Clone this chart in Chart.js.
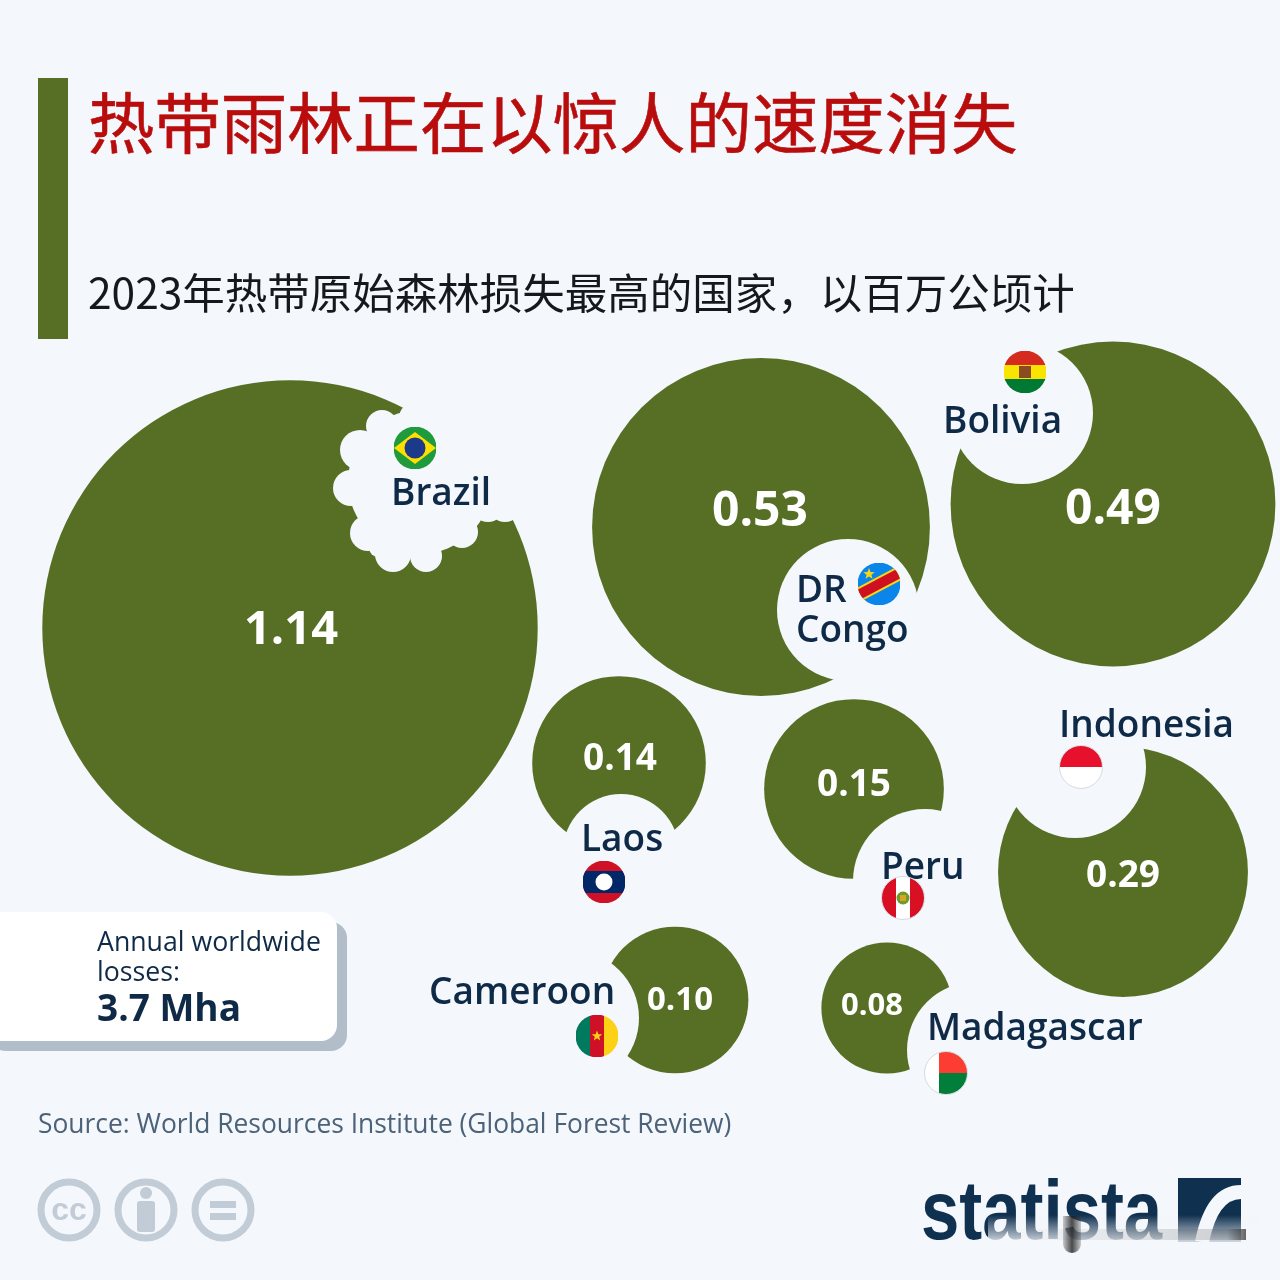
<!DOCTYPE html>
<html lang="zh">
<head>
<meta charset="utf-8">
<title>热带雨林正在以惊人的速度消失</title>
<script src="https://cdn.jsdelivr.net/npm/chart.js@4/dist/chart.umd.min.js"></script>
<style>
  html, body { margin: 0; padding: 0; background: #f4f7fb; }
  #page { position: relative; width: 1280px; height: 1280px; overflow: hidden; background: #f4f7fb; }
  #page > * { position: absolute; }
  #bubbles { left: 0; top: 0; }
  #bar { left: 38px; top: 78px; width: 30px; height: 261px; background: #566f24; }
  #title { left: 88px; top: 72px; font: 400 66.4px/94px "Noto Sans CJK SC"; color: #b90d0d; white-space: nowrap; -webkit-text-stroke: 0.6px #b90d0d; }
  #subtitle { left: 88px; top: 260px; font: 400 42.5px/62px "Noto Sans CJK SC"; color: #15181c; white-space: nowrap; }
  #box { left: -20px; top: 912px; width: 357px; height: 129px; background: #fff; border-radius: 16px; box-shadow: 10px 10px 0 #b1bdc8; }
  #boxText { left: 97px; top: 926px; font: 400 26.7px/30px "Open Sans"; color: #0f2a47; white-space: nowrap; }
  #boxText b { display: block; font: 700 37px/42px "Open Sans"; }
  #source { left: 38px; top: 1105px; font: 400 26.4px/36px "Open Sans"; color: #4c6279; white-space: nowrap; }
  #icons { left: 30px; top: 1170px; }
  #logo { left: 921px; top: 1160px; font: 700 84px/100px "Liberation Sans"; color: #10304f; white-space: nowrap; transform: scaleX(0.82); transform-origin: left center; }
  #logoMark { left: 1178px; top: 1178px; }
  #logoFade { left: 988px; top: 1215px; width: 272px; height: 36px; background: linear-gradient(rgba(244,247,251,0), #f4f7fb 90%); }
  #smear { left: 1010px; top: 1229px; width: 236px; height: 11px; background: linear-gradient(90deg, rgba(120,120,120,0), rgba(110,110,110,0.14) 50%, rgba(90,90,90,0.25) 92%, rgba(50,50,50,0.75)); }
  #smudge { left: 1063px; top: 1216px; width: 18px; height: 37px; border-radius: 0 0 9px 9px; background: linear-gradient(90deg, rgba(60,60,60,0.25), rgba(30,30,30,0.8) 50%, rgba(60,60,60,0.25)); }
</style>
</head>
<body>
<div id="page">
  <canvas id="bubbles" width="1280" height="1280"></canvas>
  <div id="bar"></div>
  <div id="title">热带雨林正在以惊人的速度消失</div>
  <div id="subtitle">2023年热带原始森林损失最高的国家，以百万公顷计</div>
  <div id="box"></div>
  <div id="boxText">Annual worldwide<br>losses:<b>3.7 Mha</b></div>
  <div id="source">Source: World Resources Institute (Global Forest Review)</div>
  <svg id="icons" width="240" height="80" viewBox="0 0 240 80">
    <g fill="none" stroke="#c1ccd6" stroke-width="7">
      <circle cx="39" cy="40" r="28"/><circle cx="116" cy="40" r="28"/><circle cx="193" cy="40" r="28"/>
    </g>
    <g fill="#c1ccd6">
      <text x="39" y="50" text-anchor="middle" font-family="Liberation Sans" font-weight="700" font-size="32">cc</text>
      <circle cx="116" cy="23" r="6"/><rect x="107" y="31" width="18" height="31" rx="3"/>
      <rect x="180" y="31" width="26" height="7"/><rect x="180" y="43" width="26" height="7"/>
    </g>
  </svg>
  <div id="logo">statista</div>
  <svg id="logoMark" width="64" height="64" viewBox="0 0 64 64">
    <rect x="0" y="0" width="63" height="64" fill="#10304f"/>
    <path d="M24 64 C30 34 42 14 63 14" fill="none" stroke="#f4f7fb" stroke-width="14"/>
  </svg>
  <div id="logoFade"></div>
  <div id="smear"></div>
  <div id="smudge"></div>
</div>

<script>
// Values, million hectares
const countries = ['Brazil', 'DR Congo', 'Bolivia', 'Indonesia', 'Peru', 'Laos', 'Cameroon', 'Madagascar'];
const losses = [1.14, 0.53, 0.49, 0.29, 0.15, 0.14, 0.10, 0.08];
const valueLabels = ['1.14', '0.53', '0.49', '0.29', '0.15', '0.14', '0.10', '0.08'];

// Bubble centres on the page grid
const centerX = [290, 761, 1113, 1123, 854, 619, 675, 887];
const centerY = [628, 527, 504, 872, 789, 763, 1000, 1008];

// Bites taken out of each bubble
const biteX = [420, 848, 1022, 1075, 925, 621, 571, 975];
const biteY = [482, 610, 413, 767, 881, 852, 1018, 1050];
const biteR = [72, 71, 71, 71, 72, 58, 68, 68];

// Scallops around the Brazil bite
const toothX = [382, 360, 351, 368, 378, 393, 426, 462, 488, 505, 415, 478];
const toothY = [426, 450, 488, 533, 548, 554, 556, 532, 505, 505, 418, 478];
const toothR = [16, 20, 18, 18, 9, 18, 16, 16, 17, 17, 16, 24];

const BG = '#f4f7fb';
const GREEN = '#566f24';
const NAVY = '#0f2a47';
const AREA_SCALE = 232;  // radius = scale * sqrt(value)

// text offsets per country, same order as countries
const valueX = [291, 760, 1113, 1123, 854, 620, 680, 872];
const valueY = [631, 512, 510, 876, 785, 759, 1001, 1006];
const valueSize = [47, 48, 48, 37, 37, 37, 33, 31];
const nameX = [391, 796, 943, 1059, 881, 581, 429, 927];
const nameY = [505, 602, 433, 737, 879, 851, 1004, 1040];
const flagX = [415, 879, 1025, 1081, 903, 604, 597, 946];
const flagY = [448, 584, 372, 767, 898, 882, 1036, 1073];

function star(ctx, x, y, r, color) {
    ctx.fillStyle = color;
    ctx.beginPath();
    for (let i = 0; i < 10; i++) {
        const a = -Math.PI / 2 + i * Math.PI / 5;
        const d = i % 2 ? r * 0.42 : r;
        ctx.lineTo(x + d * Math.cos(a), y + d * Math.sin(a));
    }
    ctx.closePath();
    ctx.fill();
}

// Flags are plain decoration, drawn in a unit box around (0,0) with radius 21
const flagPainters = {
    'Brazil': ctx => {
        ctx.fillStyle = '#1f9a3c'; ctx.fillRect(-21, -21, 42, 42);
        ctx.fillStyle = '#fedf00';
        ctx.beginPath(); ctx.moveTo(-21, 0); ctx.lineTo(0, -16); ctx.lineTo(21, 0); ctx.lineTo(0, 16); ctx.closePath(); ctx.fill();
        ctx.fillStyle = '#1b3a8a';
        ctx.beginPath(); ctx.arc(0, 0, 10.5, 0, Math.PI * 2); ctx.fill();
    },
    'DR Congo': ctx => {
        ctx.fillStyle = '#0a85ea'; ctx.fillRect(-21, -21, 42, 42);
        ctx.save();
        ctx.rotate(-Math.PI / 6.5);
        ctx.fillStyle = '#f7d618'; ctx.fillRect(-30, -7, 60, 14);
        ctx.fillStyle = '#ce1021'; ctx.fillRect(-30, -5, 60, 10);
        ctx.restore();
        star(ctx, -10, -10, 6, '#f7d618');
    },
    'Bolivia': ctx => {
        ctx.fillStyle = '#d52b1e'; ctx.fillRect(-21, -21, 42, 14);
        ctx.fillStyle = '#f9e300'; ctx.fillRect(-21, -7, 42, 14);
        ctx.fillStyle = '#007934'; ctx.fillRect(-21, 7, 42, 14);
        ctx.fillStyle = '#8a4b20'; ctx.fillRect(-6, -6, 12, 12);
    },
    'Indonesia': ctx => {
        ctx.fillStyle = '#e8112d'; ctx.fillRect(-21, -21, 42, 21);
        ctx.fillStyle = '#ffffff'; ctx.fillRect(-21, 0, 42, 21);
    },
    'Peru': ctx => {
        ctx.fillStyle = '#ffffff'; ctx.fillRect(-21, -21, 42, 42);
        ctx.fillStyle = '#d91023'; ctx.fillRect(-21, -21, 14, 42); ctx.fillRect(7, -21, 14, 42);
        ctx.fillStyle = '#6f9a2d'; ctx.beginPath(); ctx.arc(0, 0, 6.5, 0, Math.PI * 2); ctx.fill();
        ctx.fillStyle = '#d9a520'; ctx.fillRect(-3, -3, 6, 6);
    },
    'Laos': ctx => {
        ctx.fillStyle = '#ce1126'; ctx.fillRect(-21, -21, 42, 42);
        ctx.fillStyle = '#002868'; ctx.fillRect(-21, -11, 42, 22);
        ctx.fillStyle = '#ffffff'; ctx.beginPath(); ctx.arc(0, 0, 8.5, 0, Math.PI * 2); ctx.fill();
    },
    'Cameroon': ctx => {
        ctx.fillStyle = '#007a5e'; ctx.fillRect(-21, -21, 14, 42);
        ctx.fillStyle = '#ce1126'; ctx.fillRect(-7, -21, 14, 42);
        ctx.fillStyle = '#fcd116'; ctx.fillRect(7, -21, 14, 42);
        star(ctx, 0, 0, 5.5, '#fcd116');
    },
    'Madagascar': ctx => {
        ctx.fillStyle = '#ffffff'; ctx.fillRect(-21, -21, 14, 42);
        ctx.fillStyle = '#fc3d32'; ctx.fillRect(-7, -21, 28, 21);
        ctx.fillStyle = '#007e3a'; ctx.fillRect(-7, 0, 28, 21);
    }
};

// Draws value labels, country names and flags on top of the bubbles
const labelPlugin = {
    id: 'labelPlugin',
    afterDatasetsDraw(chart) {
        const ctx = chart.ctx;
        const x = chart.scales.x;
        const y = chart.scales.y;

        ctx.save();
        countries.forEach((name, i) => {
            ctx.fillStyle = '#ffffff';
            ctx.font = `700 ${valueSize[i]}px "Open Sans"`;
            ctx.textAlign = 'center';
            ctx.textBaseline = 'middle';
            ctx.fillText(valueLabels[i], x.getPixelForValue(valueX[i]), y.getPixelForValue(valueY[i]));

            ctx.fillStyle = NAVY;
            ctx.font = '600 37px "Open Sans"';
            ctx.textAlign = 'left';
            ctx.textBaseline = 'alphabetic';
            const lines = name === 'DR Congo' ? ['DR', 'Congo'] : [name];
            lines.forEach((line, n) => {
                ctx.fillText(line, x.getPixelForValue(nameX[i]), y.getPixelForValue(nameY[i] + n * 40));
            });

            ctx.save();
            ctx.translate(x.getPixelForValue(flagX[i]), y.getPixelForValue(flagY[i]));
            ctx.beginPath();
            ctx.arc(0, 0, 21.5, 0, Math.PI * 2);
            ctx.clip();
            flagPainters[name](ctx);
            ctx.restore();
            if (name === 'Indonesia' || name === 'Peru' || name === 'Madagascar') {
                ctx.strokeStyle = '#d5dbe0';
                ctx.lineWidth = 1;
                ctx.beginPath();
                ctx.arc(x.getPixelForValue(flagX[i]), y.getPixelForValue(flagY[i]), 21.5, 0, Math.PI * 2);
                ctx.stroke();
            }
        });
        ctx.restore();
    }
};

// Each country gets its bubble and then its bite, so a bite never eats a later neighbour.
// Lower order is drawn on top in Chart.js.
const datasets = [];
countries.forEach((name, i) => {
    const layer = (countries.length - i) * 2;
    datasets.push({
        label: name,
        data: [{ x: centerX[i], y: centerY[i], r: AREA_SCALE * Math.sqrt(losses[i]) }],
        backgroundColor: GREEN,
        borderWidth: 0,
        order: layer + 1
    });
    const bite = [{ x: biteX[i], y: biteY[i], r: biteR[i] }];
    if (name === 'Brazil') {
        toothX.forEach((tx, t) => bite.push({ x: tx, y: toothY[t], r: toothR[t] }));
    }
    datasets.push({
        label: name + ' bite',
        data: bite,
        backgroundColor: BG,
        borderWidth: 0,
        order: layer
    });
});

new Chart(document.getElementById('bubbles'), {
    type: 'bubble',
    data: { datasets },
    options: {
        responsive: false,
        animation: false,
        devicePixelRatio: 1,
        layout: { padding: 0, autoPadding: false },
        plugins: { legend: { display: false }, tooltip: { enabled: false } },
        scales: {
            x: { type: 'linear', min: 0, max: 1280, display: false },
            y: { type: 'linear', min: 0, max: 1280, reverse: true, display: false }
        }
    },
    plugins: [labelPlugin]
});
</script>
</body>
</html>
